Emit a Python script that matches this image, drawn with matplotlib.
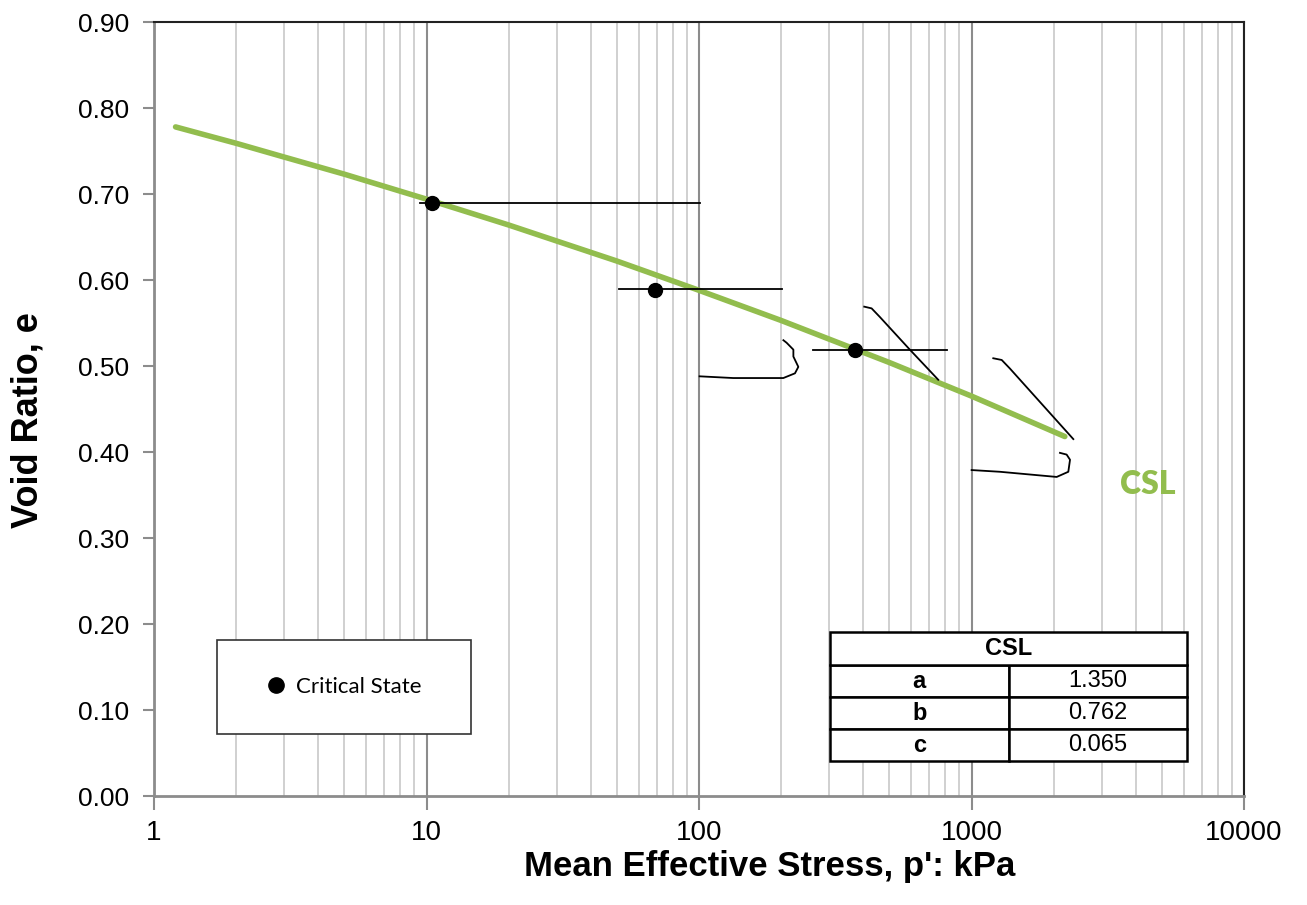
import numpy as np
import matplotlib
matplotlib.use("Agg")
import matplotlib.pyplot as plt
from matplotlib import font_manager
from matplotlib.patches import Rectangle
from matplotlib.lines import Line2D

# critical state line
csl_p = [1.2, 2, 3, 5, 10, 20, 50, 100, 200, 500, 1000, 2200]
csl_e = [0.778, 0.759, 0.743, 0.723, 0.694, 0.664, 0.622, 0.588, 0.553, 0.504, 0.465, 0.418]

# critical state points
cs_p = [10.45, 69.0, 373.0]
cs_e = [0.690, 0.588, 0.519]

# stress paths (black thin lines)
paths = [
    ([9.5, 101], [0.689, 0.689]),
    ([51, 201], [0.590, 0.590]),
    ([262, 811], [0.519, 0.519]),
    ([100.5, 133.6, 203.9, 225, 231.5, 222, 222, 209.7, 204],
     [0.488, 0.486, 0.486, 0.4915, 0.499, 0.511, 0.519, 0.527, 0.530]),
    ([404, 430, 461, 594, 755], [0.569, 0.567, 0.557, 0.519, 0.484]),
    ([1202, 1291, 1384, 2364], [0.509, 0.507, 0.497, 0.415]),
    ([1001, 1272, 2054, 2266, 2299, 2234, 2112],
     [0.379, 0.377, 0.371, 0.377, 0.391, 0.397, 0.399]),
]

# CSL parameters table
param_names = ["a", "b", "c"]
param_vals = ["1.350", "0.762", "0.065"]

GREEN = "#92bd4e"


def have_font(name):
    return any(f.name == name for f in font_manager.fontManager.ttflist)


narrow = "Liberation Sans Narrow" if have_font("Liberation Sans Narrow") else "Liberation Sans"

fig = plt.figure(figsize=(13.07, 9.05), dpi=100)
ax = fig.add_axes([154 / 1307, 1 - 796 / 905, 1090 / 1307, 774 / 905])

ax.set_xscale("log")
ax.set_xlim(1, 10000)
ax.set_ylim(0, 0.9)

# grid: vertical only
ax.grid(True, which="major", axis="x", color="#8c8c8c", linewidth=1.5)
ax.grid(True, which="minor", axis="x", color="#c8c8c8", linewidth=1.2)
ax.set_axisbelow(True)

ax.plot(csl_p, csl_e, color=GREEN, linewidth=4, solid_capstyle="round", zorder=3)
for px, ey in paths:
    ax.plot(px, ey, color="black", linewidth=1.3, zorder=4)
ax.plot(cs_p, cs_e, "o", color="black", markersize=10, zorder=5)

ax.text(4445, 0.362, "CSL", color=GREEN, fontsize=23, fontweight="heavy",
        family="Lato", ha="center", va="center")

# spines
for s in ["left", "bottom"]:
    ax.spines[s].set_color("#8c8c8c")
    ax.spines[s].set_linewidth(2)
for s in ["top", "right"]:
    ax.spines[s].set_color("#222222")
    ax.spines[s].set_linewidth(1.5)

ax.set_yticks(np.arange(0, 0.91, 0.1))
ax.set_yticklabels(["%.2f" % v for v in np.arange(0, 0.91, 0.1)],
                   fontsize=19, family="Liberation Sans")
ax.set_xticks([1, 10, 100, 1000, 10000])
ax.set_xticklabels(["1", "10", "100", "1000", "10000"], fontsize=20, family=narrow)
ax.tick_params(axis="y", which="major", length=8, width=1.5, color="#8c8c8c", pad=10)
ax.tick_params(axis="x", which="major", length=10, width=1.5, color="#8c8c8c", pad=7)
ax.tick_params(axis="x", which="minor", length=0)

fig.text(770 / 1307, 1 - 866 / 905, "Mean Effective Stress, p': kPa", fontsize=25,
         fontweight="bold", family=narrow, ha="center", va="center")
fig.text(28 / 1307, 1 - 420 / 905, "Void Ratio, e", fontsize=26, rotation=90,
         fontweight="bold", family=narrow, ha="center", va="center")

# legend box
lx0, ly0 = (217 - 154) / 1090, (796 - 734) / 774
lw, lh = (471 - 217) / 1090, (734 - 640) / 774
ax.add_patch(Rectangle((lx0, ly0), lw, lh, transform=ax.transAxes, facecolor="white",
                       edgecolor="#333333", linewidth=1.2, zorder=6))
handle = Line2D([], [], marker="o", color="black", linestyle="none", markersize=11)
leg = ax.legend([handle], ["Critical State"], loc="center",
                bbox_to_anchor=(lx0 + lw / 2 - 0.002, ly0 + lh / 2), frameon=False,
                prop={"family": "Lato", "size": 16}, handletextpad=0.3,
                handlelength=1.2)
leg.set_zorder(7)

# parameter table
tx0 = (830 - 154) / 1090
tw = (1187 - 830) / 1090
row_h = 32 / 774
hdr_h = 33 / 774
ty0 = (796 - 761) / 774
t_rows = ax.table(cellText=[[n, v] for n, v in zip(param_names, param_vals)],
                  cellLoc="center", bbox=[tx0, ty0, tw, 3 * row_h])
t_hdr = ax.table(cellText=[["CSL"]], cellLoc="center",
                 bbox=[tx0, ty0 + 3 * row_h, tw, hdr_h])
for t in (t_rows, t_hdr):
    t.auto_set_font_size(False)
    t.set_zorder(7)
    for (r, c), cell in t.get_celld().items():
        cell.set_edgecolor("black")
        cell.set_linewidth(1.8)
        cell.get_text().set_fontsize(17)
        cell.get_text().set_family("Liberation Sans")
        if t is t_hdr or c == 0:
            cell.get_text().set_fontweight("bold")

fig.savefig("out.png", dpi=100)
